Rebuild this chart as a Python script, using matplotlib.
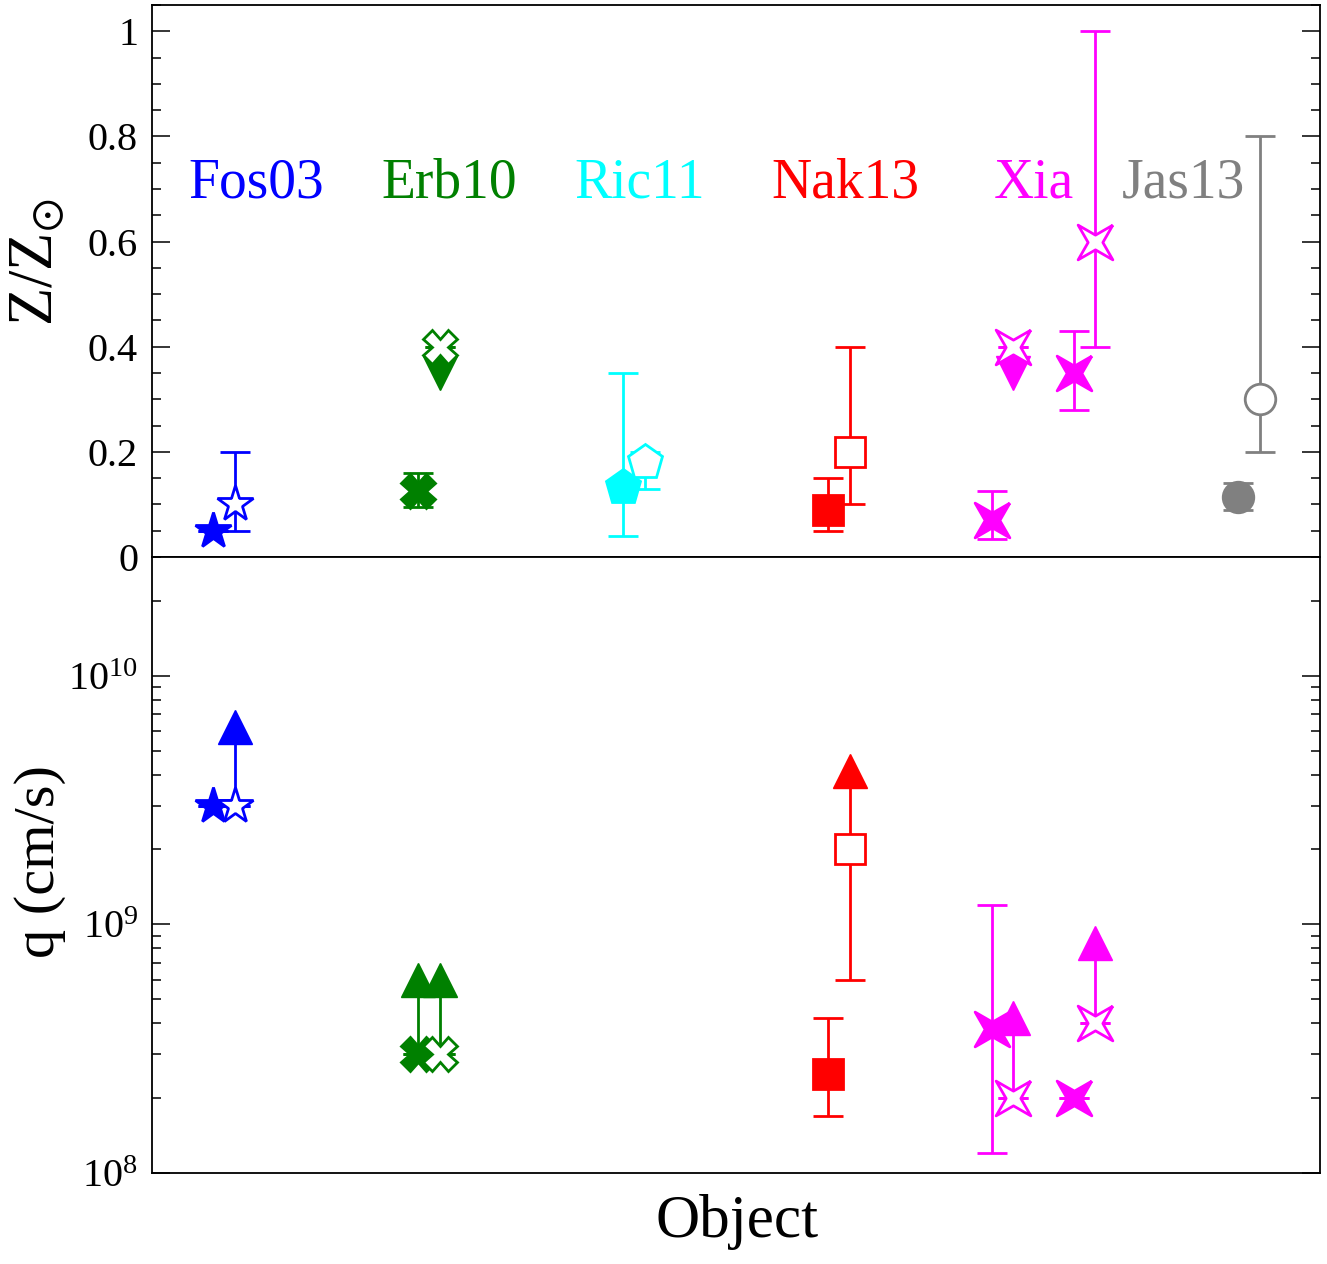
import numpy as np
import matplotlib
matplotlib.use("Agg")
import matplotlib.pyplot as plt
from matplotlib.ticker import MultipleLocator, FuncFormatter, LogLocator, NullFormatter

plt.rcParams['font.family'] = 'serif'
plt.rcParams['font.serif'] = ['Liberation Serif', 'DejaVu Serif']
plt.rcParams['mathtext.fontset'] = 'stix'

# samples (one colour / marker per sample)
names = ['Fos03', 'Erb10', 'Ric11', 'Nak13', 'Xia', 'Jas13']
colors = ['blue', 'green', 'cyan', 'red', 'magenta', 'gray']
name_x = [1.02, 2.90, 4.76, 6.77, 8.61, 10.07]

# 4-point star, points on the diagonals
ang = np.deg2rad(np.arange(45, 405, 45))
rad = np.array([1.0, 0.3] * 4)
sparkle = list(zip(rad * np.cos(ang), rad * np.sin(ang)))
sparkle.append(sparkle[0])

markers = ['*', 'X', 'p', 's', sparkle, 'o']
msizes = [27, 24, 26, 22, 25, 22]

# top panel: Z/Zsun  (low/high = ends of error bar, lim = end of limit arrow)
z_pos = [0.6, 0.81, 2.6, 2.81, 4.6, 4.81, 6.6, 6.81, 8.2, 8.4, 9.0, 9.2, 10.6, 10.81]
z_grp = [0, 0, 1, 1, 2, 2, 3, 3, 4, 4, 4, 4, 5, 5]
z_fill = [1, 0, 1, 0, 1, 0, 1, 0, 1, 0, 1, 0, 1, 0]
z_val = [0.05, 0.10, 0.125, 0.40, 0.133, 0.18, 0.09, 0.20, 0.07, 0.40, 0.35, 0.60, 0.115, 0.30]
z_low = [0.05, 0.05, 0.095, 0.40, 0.04, 0.13, 0.05, 0.10, 0.035, 0.40, 0.28, 0.40, 0.09, 0.20]
z_high = [0.05, 0.20, 0.16, 0.40, 0.35, 0.20, 0.15, 0.40, 0.125, 0.40, 0.43, 1.00, 0.14, 0.80]
z_lim = [None, None, None, 0.35, None, None, None, None, None, 0.35, None, None, None, None]

# bottom panel: ionisation parameter q
q_pos = [0.6, 0.81, 2.6, 2.81, 6.6, 6.81, 8.2, 8.4, 9.0, 9.2]
q_grp = [0, 0, 1, 1, 3, 3, 4, 4, 4, 4]
q_fill = [1, 0, 1, 0, 1, 0, 1, 0, 1, 0]
q_val = [3e9, 3e9, 3e8, 3e8, 2.5e8, 2e9, 3.8e8, 2e8, 2e8, 4e8]
q_low = [3e9, 3e9, 3e8, 3e8, 1.7e8, 6e8, 1.2e8, 2e8, 2e8, 4e8]
q_high = [3e9, 3e9, 3e8, 3e8, 4.2e8, 2e9, 1.2e9, 2e8, 2e8, 4e8]
q_lim = [None, 6.2e9, 6e8, 6e8, None, 4.15e9, None, 4.2e8, None, 8.4e8]


def draw_points(ax, pos, grp, fill, val, low, high, lim):
    for i in range(len(pos)):
        c = colors[grp[i]]
        m = markers[grp[i]]
        ms = msizes[grp[i]]
        if fill[i]:
            ax.plot(pos[i], val[i], ls='none', marker=m, ms=ms, color=c,
                    mec=c, mew=2, zorder=3)
        ax.errorbar(pos[i], val[i], yerr=[[val[i] - low[i]], [high[i] - val[i]]],
                    fmt='none', ecolor=c, elinewidth=2, capsize=11, capthick=2, zorder=4)
        if lim[i] is not None:
            tri = '^' if lim[i] > val[i] else 'v'
            ax.plot([pos[i], pos[i]], [val[i], lim[i]], color=c, lw=2, zorder=4)
            ax.plot(pos[i], lim[i], ls='none', marker=tri, ms=24, color=c, zorder=4)
        if not fill[i]:
            ax.plot(pos[i], val[i], ls='none', marker=m, ms=ms, mfc='white',
                    mec=c, mew=2, zorder=5)


fig = plt.figure(figsize=(13.27, 12.64), dpi=100)
ax1 = fig.add_axes([0.1145, 0.5593, 0.8802, 0.4367])
ax2 = fig.add_axes([0.1145, 0.072, 0.8802, 0.4873])

draw_points(ax1, z_pos, z_grp, z_fill, z_val, z_low, z_high, z_lim)
draw_points(ax2, q_pos, q_grp, q_fill, q_val, q_low, q_high, q_lim)

for i in range(len(names)):
    ax1.text(name_x[i], 0.684, names[i], color=colors[i], fontsize=40,
             ha='center', va='baseline')

ax1.set_xlim(0, 11.4)
ax1.set_ylim(0, 1.05)
ax1.yaxis.set_major_locator(MultipleLocator(0.2))
ax1.yaxis.set_minor_locator(MultipleLocator(0.05))
ax1.yaxis.set_major_formatter(FuncFormatter(lambda v, p: '%g' % round(v, 2)))

ax2.set_xlim(0, 11.4)
ax2.set_yscale('log')
ax2.set_ylim(1e8, 3e10)
ax2.yaxis.set_major_locator(LogLocator(base=10))
ax2.yaxis.set_minor_locator(LogLocator(base=10, subs=np.arange(2, 10)))
ax2.yaxis.set_minor_formatter(NullFormatter())

for ax in (ax1, ax2):
    ax.set_xticks([])
    ax.tick_params(axis='y', which='both', direction='in', left=True, right=True,
                   labelsize=29, pad=10, width=1.1)
    ax.tick_params(axis='y', which='major', length=13)
    ax.tick_params(axis='y', which='minor', length=6.5)
    for sp in ax.spines.values():
        sp.set_linewidth(1.3)

fig.text(38 / 1327, 1 - 262 / 1264, r'Z/Z$_{\odot}$', rotation=90, fontsize=45,
         ha='center', va='center')
fig.text(40 / 1327, 1 - 862 / 1264, 'q (cm/s)', rotation=90, fontsize=42,
         ha='center', va='center')
fig.text(737 / 1327, 1 - 1237 / 1264, 'Object', fontsize=44, ha='center', va='baseline')

fig.savefig('out.png', dpi=100)
